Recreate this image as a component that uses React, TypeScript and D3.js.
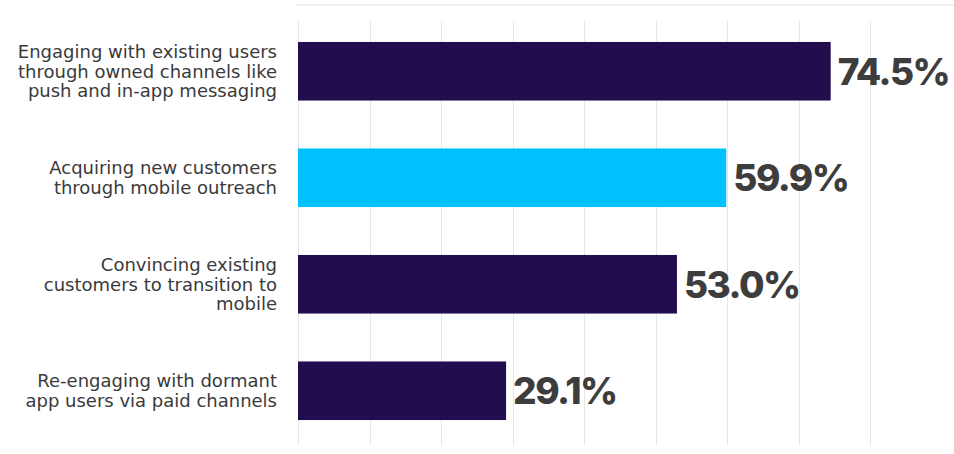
import React from "react";
import * as d3 from "d3";

const categories: string[][] = [
  ["Engaging with existing users", "through owned channels like", "push and in-app messaging"],
  ["Acquiring new customers", "through mobile outreach"],
  ["Convincing existing", "customers to transition to", "mobile"],
  ["Re-engaging with dormant", "app users via paid channels"],
];
const values: number[] = [74.5, 59.9, 53.0, 29.1];
const highlight: boolean[] = [false, true, false, false];
const gridTicks: number[] = [0, 10, 20, 30, 40, 50, 60, 70, 80];

const W = 954;
const H = 454;

export default function App() {
  const x = d3.scaleLinear().domain([0, 80]).range([298, 870]);
  const y = d3
    .scaleBand<number>()
    .domain(d3.range(values.length))
    .range([18, 444])
    .paddingInner(0.45)
    .paddingOuter(0.225);
  const lineH = 19.5;
  const labelFont = "'DejaVu Sans', 'Open Sans', sans-serif";
  const valueFont = "Inter, 'Open Sans', sans-serif";

  return (
    <svg
      width={W}
      height={H}
      style={{ position: "absolute", left: 0, top: 0, background: "#fff" }}
    >
      <line x1={296} x2={W} y1={5} y2={5} stroke="#e3e3e3" strokeWidth={1} />
      {gridTicks.map((t) => (
        <line
          key={t}
          x1={Math.round(x(t)) + 0.5}
          x2={Math.round(x(t)) + 0.5}
          y1={21}
          y2={445}
          stroke="#e6e6e6"
          strokeWidth={1}
        />
      ))}
      {values.map((v, i) => {
        const y0 = y(i)!;
        const bw = y.bandwidth();
        const cy = y0 + bw / 2;
        const lines = categories[i];
        const startY = cy - ((lines.length - 1) * lineH) / 2;
        return (
          <g key={i}>
            <rect
              x={x(0)}
              y={y0}
              width={x(v) - x(0)}
              height={bw}
              fill={highlight[i] ? "#00c1fd" : "#220e4f"}
            />
            <text
              x={x(v) + 7}
              y={cy}
              dy="0.36em"
              fontFamily={valueFont}
              fontWeight={800}
              fontSize={37}
              fill="#3d3d3d"
              letterSpacing={-1.5}
            >
              {v.toFixed(1) + "%"}
            </text>
            {lines.map((l, j) => (
              <text
                key={j}
                x={277}
                y={startY + j * lineH}
                dy="0.35em"
                textAnchor="end"
                fontFamily={labelFont}
                fontSize={18}
                fill="#3a3a3a"
              >
                {l}
              </text>
            ))}
          </g>
        );
      })}
    </svg>
  );
}
